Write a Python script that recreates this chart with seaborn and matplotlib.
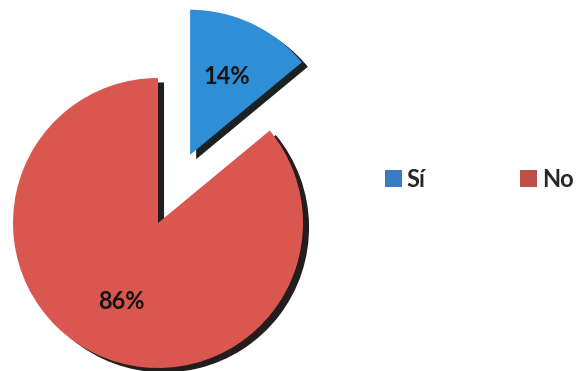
import matplotlib
matplotlib.use("Agg")
import matplotlib.pyplot as plt
import matplotlib.patches as mpatches
import seaborn as sns

sns.set_theme(style="white")
plt.rcParams["font.family"] = ["Lato", "DejaVu Sans"]

categories = ["Sí", "No"]
values = [14, 86]
slice_colors = ["#2F8FD6", "#DA574F"]
legend_colors = ["#3A7CC4", "#BE504A"]

fig = plt.figure(figsize=(5.76, 3.71), dpi=100)
fig.patch.set_facecolor("white")
ax = fig.add_axes([0, 0, 1, 1])

wedges, texts, autotexts = ax.pie(
    values,
    colors=slice_colors,
    startangle=90,
    counterclock=False,
    explode=[0.52, 0.0],
    autopct="%d%%",
    pctdistance=0.6,
    shadow={"ox": 0.03, "oy": -0.022, "shade": 0.95, "alpha": 0.9},
    wedgeprops={"linewidth": 0},
    textprops={"fontsize": 17, "fontweight": "bold", "color": "#151515"},
)

# place the pie: centre near the left, radius ~145 px
scale = 145.0
cx, cy = 158.0, 223.0
W, H = 576.0, 371.0
ax.set_aspect("auto")
ax.set_xlim(-cx / scale, (W - cx) / scale)
ax.set_ylim(-(H - cy) / scale, cy / scale)
ax.axis("off")

handles = [mpatches.Patch(facecolor=c, edgecolor="none") for c in legend_colors]
fig.legend(
    handles, categories,
    loc="center left", bbox_to_anchor=(385 / W, 1 - 179 / H),
    ncol=2, frameon=False, borderpad=0, borderaxespad=0,
    handlelength=0.72, handleheight=0.72, handletextpad=0.2,
    columnspacing=4.0,
    prop={"size": 17, "weight": "bold"},
)

fig.savefig("out.png", dpi=100, facecolor="white")
